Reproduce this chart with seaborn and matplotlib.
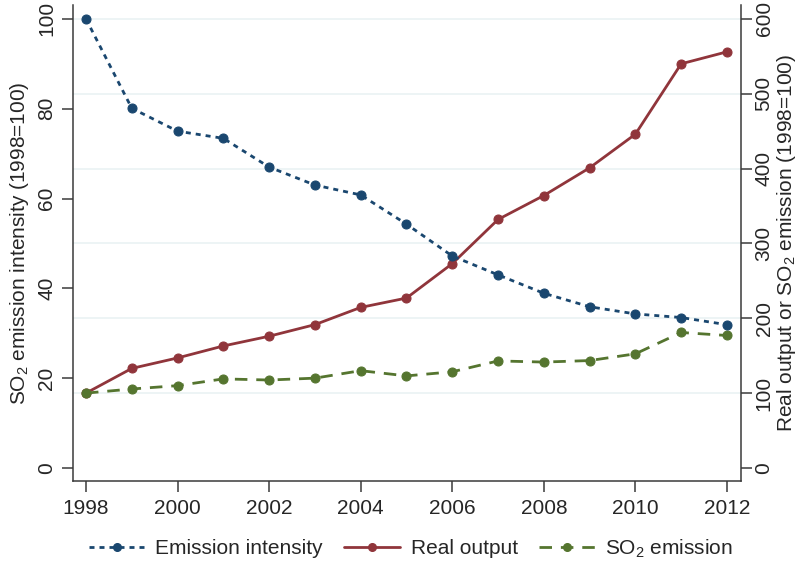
import matplotlib
matplotlib.use("Agg")
import matplotlib.pyplot as plt
import seaborn as sns
import pandas as pd
from matplotlib.lines import Line2D

# Index series, 1998 = 100
years = [1998, 1999, 2000, 2001, 2002, 2003, 2004, 2005,
         2006, 2007, 2008, 2009, 2010, 2011, 2012]
emission_intensity = [100, 80.1, 75.0, 73.4, 67.0, 63.0, 60.8, 54.3,
                      47.2, 43.0, 38.9, 35.9, 34.3, 33.5, 31.9]
real_output = [100, 133, 147, 163, 176, 191.5, 214.5, 227,
               273, 332, 364, 401, 446, 540, 556]
so2_emission = [100, 105.5, 110, 119, 117.5, 120, 130, 123,
                128.5, 143, 141.5, 143.5, 152.5, 181, 177]

left_ticks = [0, 20, 40, 60, 80, 100]
right_ticks = [0, 100, 200, 300, 400, 500, 600]
x_ticks = list(range(1998, 2013, 2))

navy = "#1a476f"
maroon = "#90353b"
green = "#55752f"
grid_col = "#eaf2f3"
axis_col = "#3a3a3a"

sns.set_theme(style="white")
plt.rcParams["font.family"] = ["Liberation Sans", "DejaVu Sans"]
plt.rcParams["mathtext.fontset"] = "custom"
plt.rcParams["mathtext.rm"] = "Liberation Sans"
plt.rcParams["mathtext.it"] = "Liberation Sans"

df = pd.DataFrame({"year": years, "intensity": emission_intensity,
                   "output": real_output, "so2": so2_emission})

fig = plt.figure(figsize=(7.98, 5.65), dpi=100)
ax = fig.add_axes([0.0911, 0.1487, 0.8371, 0.8425])
ax2 = ax.twinx()

fs = 15
lw = 2.0
ms = 6.5

# right-axis grid lines
for v in right_ticks[1:]:
    ax2.axhline(v, color=grid_col, lw=1.2, zorder=0)

sns.lineplot(data=df, x="year", y="output", ax=ax2, color=maroon,
             marker="o", markersize=ms, markeredgecolor=maroon,
             linewidth=lw, zorder=3)
sns.lineplot(data=df, x="year", y="so2", ax=ax2, color=green,
             marker="o", markersize=ms, markeredgecolor=green,
             linewidth=lw, zorder=3)
ax2.lines[-1].set_dashes((4.5, 3.2))

sns.lineplot(data=df, x="year", y="intensity", ax=ax, color=navy,
             marker="o", markersize=ms, markeredgecolor=navy,
             linewidth=lw, zorder=4)
ax.lines[-1].set_dashes((1.8, 1.8))

ax.set_zorder(ax2.get_zorder() + 1)
ax.patch.set_visible(False)

ax.set_xlim(1997.71, 2012.30)
ax.set_ylim(-2.9, 103.1)
ax2.set_ylim(-17.4, 618.6)

ax.set_xticks(x_ticks)
ax.set_yticks(left_ticks)
ax2.set_yticks(right_ticks)

ax.set_xlabel("")
ax.set_ylabel("SO$_2$ emission intensity (1998=100)", fontsize=fs, labelpad=4)
ax2.set_ylabel("Real output or SO$_2$ emission (1998=100)", fontsize=fs,
               labelpad=1, rotation=90)

ax.tick_params(axis="both", which="major", labelsize=fs, length=8,
               width=1.1, color=axis_col, direction="out", pad=3)
ax.tick_params(axis="x", pad=5, left=True, bottom=True)
ax.tick_params(axis="y", left=True, pad=4)
ax2.tick_params(axis="y", labelsize=fs, length=8, width=1.1, color=axis_col,
                direction="out", pad=2, right=True)
for lab in ax.get_yticklabels():
    lab.set_rotation(90)
    lab.set_va("center")
for lab in ax2.get_yticklabels():
    lab.set_rotation(90)
    lab.set_va("center")

for a in (ax, ax2):
    a.spines["top"].set_visible(False)
    for s in ("left", "right", "bottom"):
        a.spines[s].set_color(axis_col)
        a.spines[s].set_linewidth(1.1)
ax.spines["right"].set_visible(False)
ax2.spines["left"].set_visible(False)
ax2.spines["bottom"].set_visible(False)

handles = [
    Line2D([], [], color=navy, lw=lw, dashes=(1.8, 1.8), marker="o",
           markersize=ms - 1, markeredgecolor=navy),
    Line2D([], [], color=maroon, lw=lw, marker="o",
           markersize=ms - 1, markeredgecolor=maroon),
    Line2D([], [], color=green, lw=lw, dashes=(4.5, 3.2), marker="o",
           markersize=ms - 1, markeredgecolor=green),
]
labels = ["Emission intensity", "Real output", "SO$_2$ emission"]
fig.legend(handles, labels, loc="center", bbox_to_anchor=(0.515, 0.029),
           ncol=3, frameon=False, fontsize=fs, handlelength=2.7,
           handletextpad=0.5, columnspacing=1.0, numpoints=1)

fig.savefig("out.png", dpi=100)
